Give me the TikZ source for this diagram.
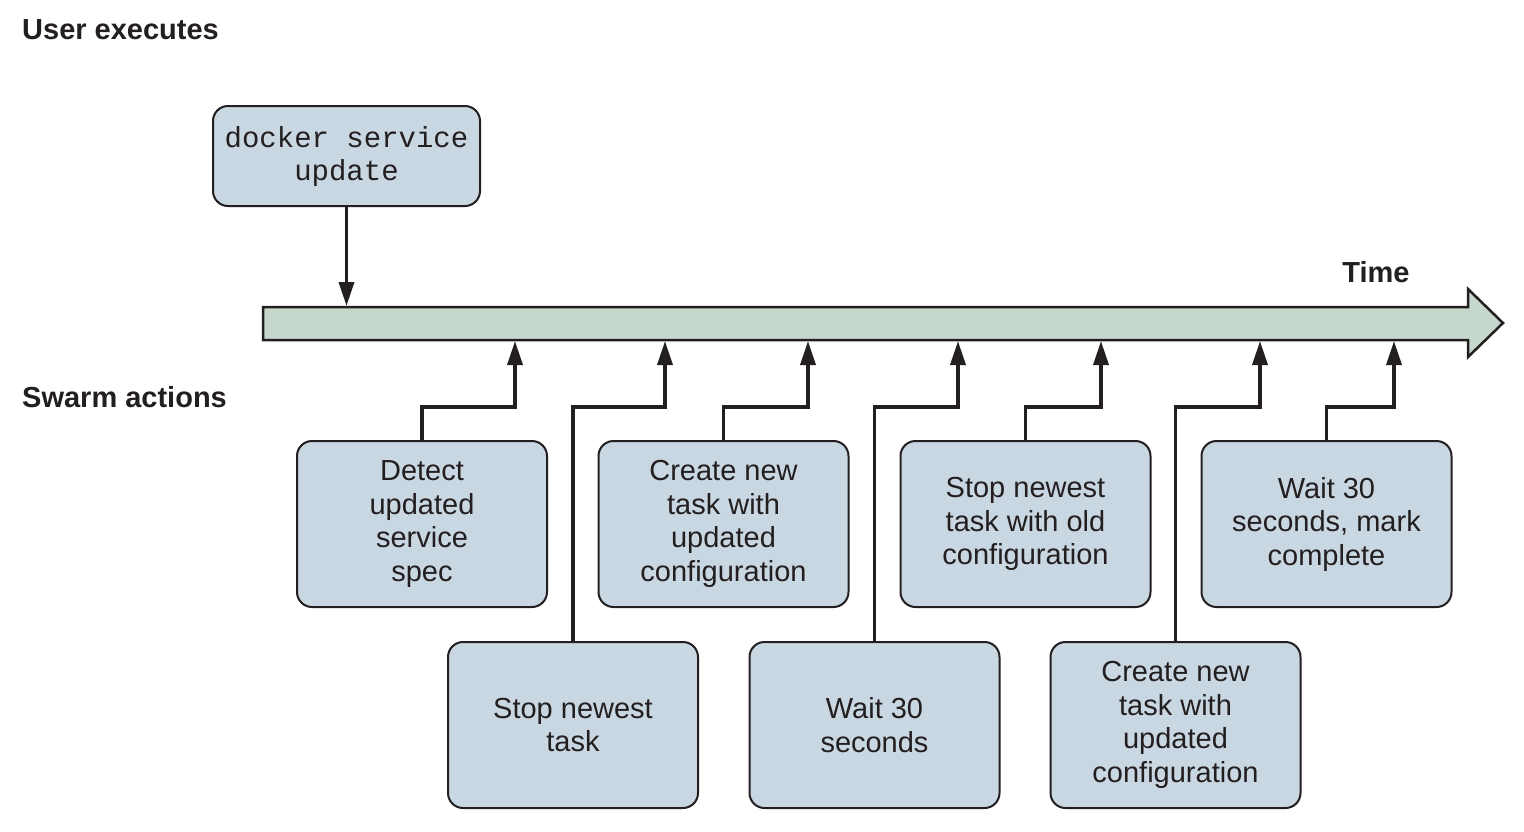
\documentclass[tikz,border=0pt]{standalone}
\usepackage{fontspec}
\setmainfont{Liberation Sans}
\setmonofont{Liberation Mono}
\usetikzlibrary{arrows.meta}
\definecolor{boxfill}{HTML}{C9D7E2}
\definecolor{barfill}{HTML}{C6D8CC}
\definecolor{ink}{HTML}{231F20}
\tikzset{
  actbox/.style={draw=ink, line width=2pt, fill=boxfill, rounded corners=15pt,
    minimum width=250pt, minimum height=166pt, inner sep=0pt, align=center,
    text=ink, font=\fontsize{29}{33.5}\selectfont},
  cmdbox/.style={draw=ink, line width=2pt, fill=boxfill, rounded corners=15pt,
    minimum width=267pt, minimum height=100pt, inner sep=0pt, align=center,
    text=ink, font=\ttfamily\fontsize{29}{33}\selectfont},
  heading/.style={text=ink, font=\bfseries\fontsize{29}{33}\selectfont, inner sep=0pt},
  conn/.style={draw=ink, line width=3.5pt, -{Triangle[length=24pt,width=15pt]}},
}
\begin{document}
\begin{tikzpicture}[x=1pt,y=-1pt]
\useasboundingbox (0,0) rectangle (1524,831);
% headings
\node[heading, anchor=base west] (ue) at (22,39) {User executes};
\node[heading, anchor=base west] (sa) at (22,407) {Swarm actions};
\node[heading, anchor=base] (time) at (1376,282) {Time};
% time arrow
\draw[draw=ink, line width=2.5pt, fill=barfill, line join=miter]
  (263,307) -- (1468,307) -- (1468,289) -- (1503,323) -- (1468,357) -- (1468,340) -- (263,340) -- cycle;
\foreach \n/\x in {t0/346.5, t1/515, t2/665, t3/808, t4/958, t5/1101, t6/1260, t7/1394}{
  \coordinate (\n top) at (\x,306);
  \coordinate (\n) at (\x,341);
}
% command box
\node[cmdbox] (cmd) at (346.5,156) {docker service\\update};
\draw[conn] (cmd) -- (t0top);
% action boxes
\node[actbox] (b1) at (422,524) {Detect\\updated\\service\\spec};
\node[actbox] (b2) at (573,725) {Stop newest\\task};
\node[actbox] (b3) at (723.5,524) {Create new\\task with\\updated\\configuration};
\node[actbox] (b4) at (874.5,725) {Wait 30\\seconds};
\node[actbox] (b5) at (1025.5,524) {Stop newest\\task with old\\configuration};
\node[actbox] (b6) at (1175.5,725) {Create new\\task with\\updated\\configuration};
\node[actbox] (b7) at (1326.5,524) {Wait 30\\seconds, mark\\complete};
\foreach \b/\t in {b1/t1, b2/t2, b3/t3, b4/t4, b5/t5, b6/t6, b7/t7}{
  \draw[conn, line join=miter] (\b.north) -- (\b.north |- 0,407) -| (\t);
}
\end{tikzpicture}
\end{document}
